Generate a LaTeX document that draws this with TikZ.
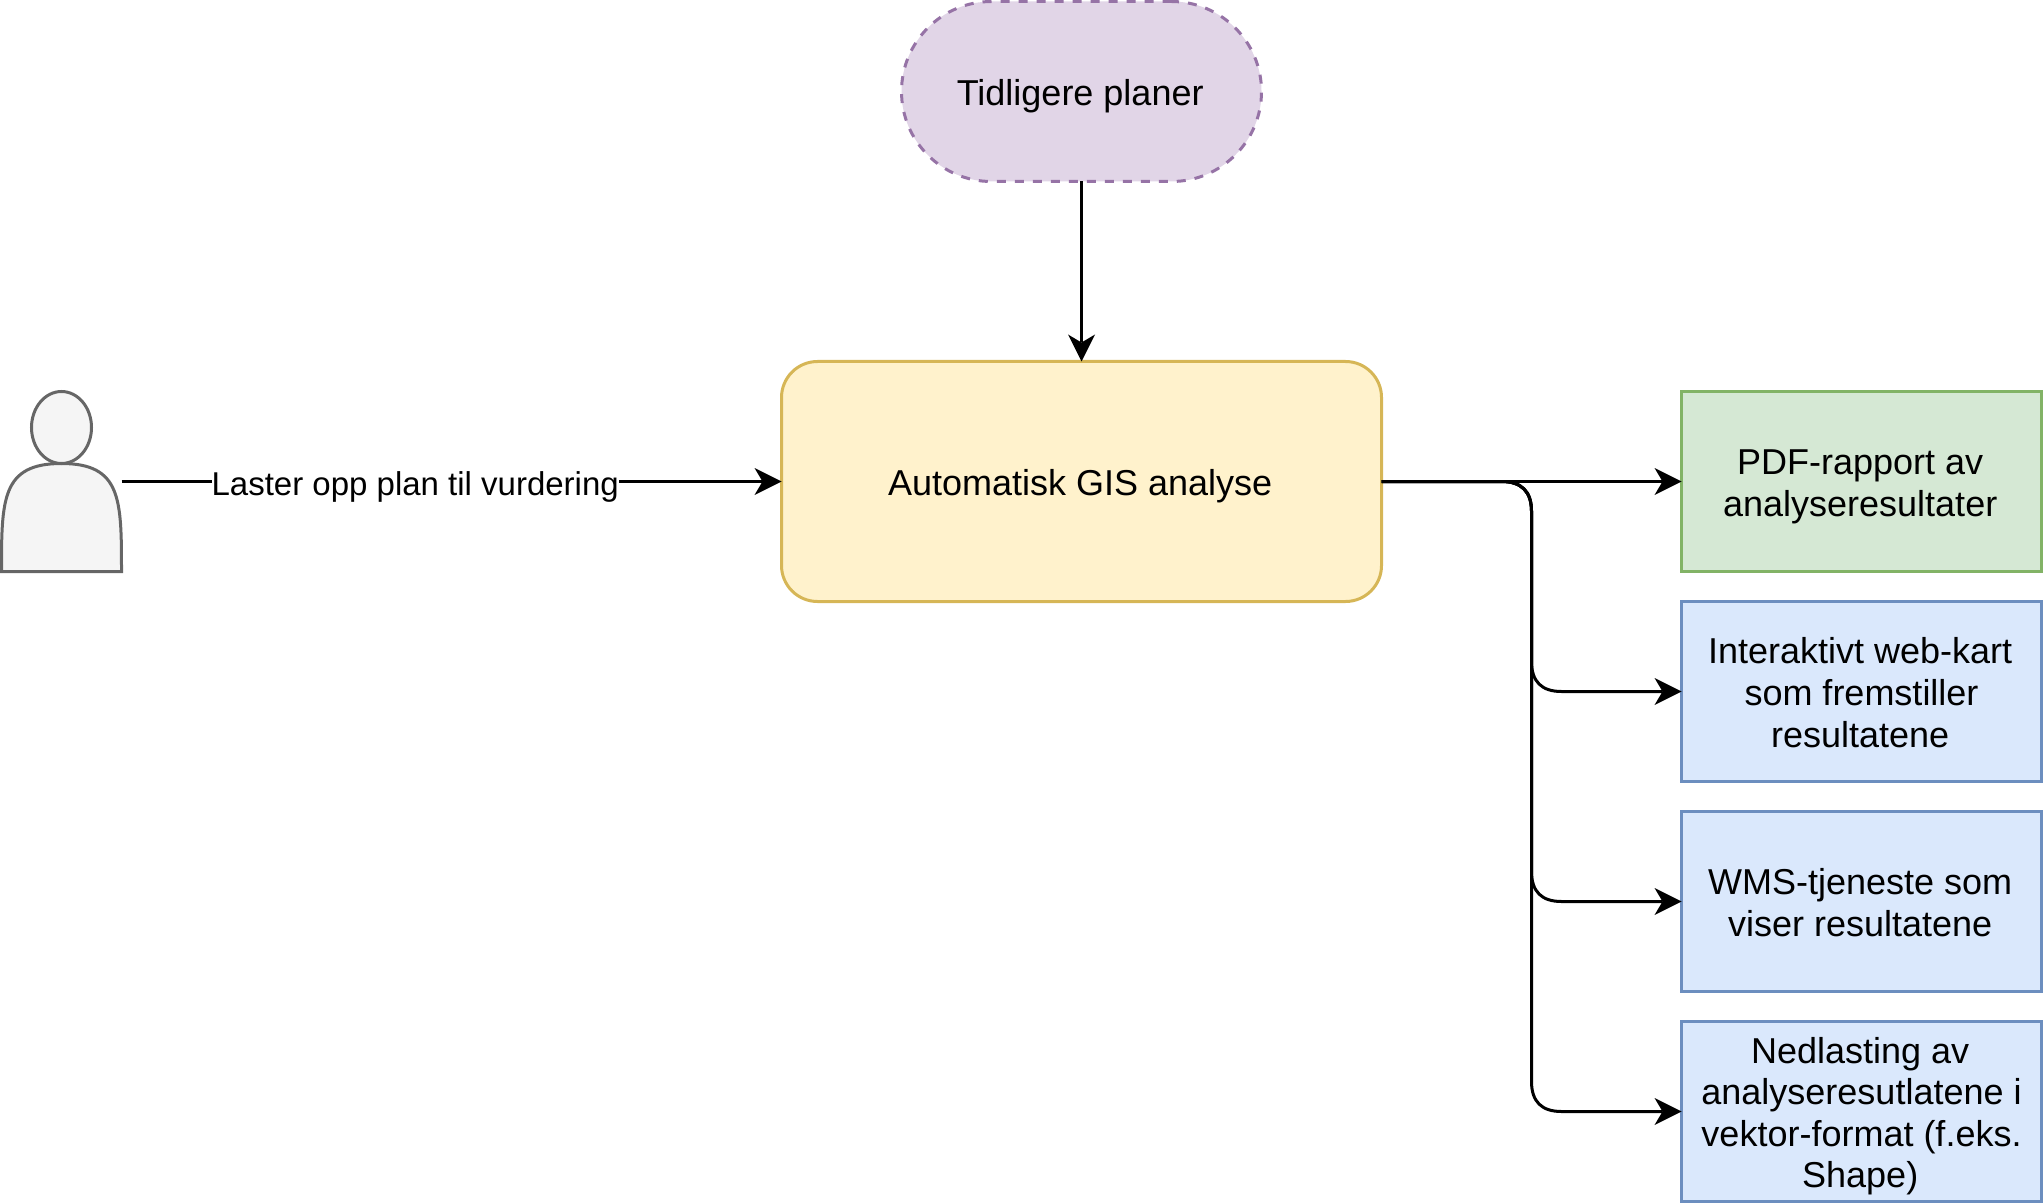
\documentclass[tikz,border=0pt]{standalone}
\usepackage{fontspec}
\setmainfont{Liberation Sans}
\usetikzlibrary{arrows.meta}
\newcommand\tline[1]{\rule[-3.8pt]{0pt}{20.1pt}\smash{\raisebox{-0.7pt}{#1}}\hspace*{1.3pt}}
\tikzset{
  x=0.5pt,y=-0.5pt,
  box/.style={draw,line width=1.5pt,inner sep=0pt,outer sep=0pt,align=center,
    font=\fontsize{18pt}{20.8pt}\selectfont,text=black},
  output/.style={box,minimum width=180pt,minimum height=90pt},
  green box/.style={output,draw=gboxd,fill=gboxf},
  blue box/.style={output,draw=bboxd,fill=bboxf},
  conn/.style={line width=1.5pt,draw=black,-{Stealth[length=13.5pt,width=13.5pt,inset=4pt,line width=0pt]}},
  actor/.style={line width=1.5pt,draw=pgray,fill=pfill},
}
\definecolor{gboxd}{HTML}{82B366}\definecolor{gboxf}{HTML}{D5E8D4}
\definecolor{bboxd}{HTML}{6C8EBF}\definecolor{bboxf}{HTML}{DAE8FC}
\definecolor{yboxd}{HTML}{D6B656}\definecolor{yboxf}{HTML}{FFF2CC}
\definecolor{mboxd}{HTML}{9673A6}\definecolor{mboxf}{HTML}{E1D5E7}
\definecolor{pgray}{HTML}{666666}\definecolor{pfill}{HTML}{F5F5F5}
% route from the GIS box along the bus to a target node
\newcommand\busroute[1]{%
  \coordinate (c#1) at (bus |- #1.west);
  \draw[conn] (gis.east) -- ([xshift=-15pt]bus)
    .. controls ([xshift=-5pt]bus) and ([yshift=-5pt]bus) .. ([yshift=-15pt]bus)
    -- ([yshift=15pt]c#1)
    .. controls ([yshift=5pt]c#1) and ([xshift=5pt]c#1) .. ([xshift=15pt]c#1)
    -- (#1.west);}
\begin{document}
\begin{tikzpicture}
\useasboundingbox (0,0) rectangle (2043,1203);
% person
\draw[actor] (1.5,571.5) .. controls (1.5,499.5) and (1.5,463.5) .. (61.5,463.5)
  .. controls (121.5,463.5) and (121.5,499.5) .. (121.5,571.5) -- cycle;
\draw[actor] (61.5,427.5) ellipse [x radius=15pt,y radius=18pt];
\node[minimum width=60pt,minimum height=90pt,inner sep=0pt,outer sep=0pt] (person) at (61.5,481.5) {};
% boxes
\node[box,draw=mboxd,fill=mboxf,dashed,dash pattern=on 4.5pt off 4.5pt,rounded corners=45pt,
  minimum width=180pt,minimum height=90pt] (plans) at (1081.5,91.5) {\tline{Tidligere planer}};
\node[box,draw=yboxd,fill=yboxf,rounded corners=18pt,minimum width=300pt,minimum height=120pt]
  (gis) at (1081.5,481.5) {\tline{Automatisk GIS analyse}};
\node[green box] (pdf) at (1861.5,481.5) {\tline{PDF-rapport av}\\\tline{analyseresultater}};
\node[blue box] (web) at (1861.5,691.5) {\tline{Interaktivt web-kart}\\\tline{som fremstiller}\\\tline{resultatene}};
\node[blue box] (wms) at (1861.5,901.5) {\tline{WMS-tjeneste som}\\\tline{viser resultatene}};
\node[blue box] (dl) at (1861.5,1111.5) {\tline{Nedlasting av}\\\tline{analyseresutlatene i}\\\tline{vektor-format (f.eks.}\\\tline{Shape)}};
% connectors
\coordinate (bus) at (1531.5,481.5);
\draw[conn] (plans.south) -- (gis.north);
\draw[conn] (person.east) -- node[pos=0.445,fill=white,inner sep=0pt,font=\fontsize{16.5pt}{19pt}\selectfont] (lbl) {\rule[-3.5pt]{0pt}{20.5pt}Laster opp plan til vurdering} (gis.west);
\draw[conn] (gis.east) -- (pdf.west);
\busroute{web}
\busroute{wms}
\busroute{dl}
\end{tikzpicture}
\end{document}
